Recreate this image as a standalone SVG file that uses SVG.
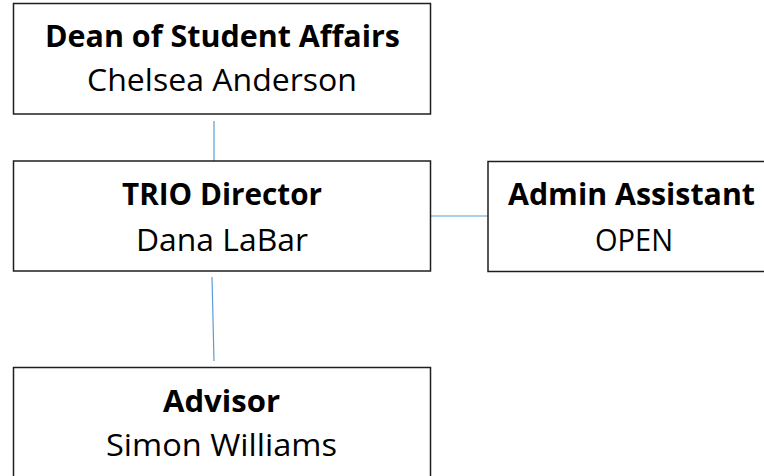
<svg xmlns="http://www.w3.org/2000/svg" width="764" height="476" viewBox="0 0 764 476">
<style>
.box{fill:#ffffff;stroke:#1e1e1e;stroke-width:1.5}
.t{font-family:"Open Sans","Noto Sans","Liberation Sans",sans-serif;font-size:31px;font-weight:700;fill:#000;text-anchor:middle}
.n{font-family:"Open Sans","Noto Sans","Liberation Sans",sans-serif;font-size:31px;font-weight:400;fill:#000;text-anchor:middle}
.c{stroke:#5b9bd5;stroke-width:1.2;fill:none}
</style>
<rect x="0" y="0" width="764" height="476" fill="#ffffff"/>
<g id="connectors">
<line class="c" x1="214" y1="121" x2="214" y2="162"/>
<line class="c" x1="431" y1="216" x2="488" y2="216"/>
<line class="c" x1="212" y1="277" x2="214" y2="361"/>
</g>
<g id="dean">
<rect class="box" x="13.5" y="3.5" width="417" height="110.5"/>
<text class="t" x="222.5" y="46.5" textLength="355" lengthAdjust="spacingAndGlyphs">Dean of Student Affairs</text>
<text class="n" x="222" y="91" textLength="270" lengthAdjust="spacingAndGlyphs">Chelsea Anderson</text>
</g>
<g id="trio">
<rect class="box" x="13.5" y="161" width="417" height="110"/>
<text class="t" x="222" y="205" textLength="200" lengthAdjust="spacingAndGlyphs">TRIO Director</text>
<text class="n" x="222" y="250.5" textLength="172" lengthAdjust="spacingAndGlyphs">Dana LaBar</text>
</g>
<g id="admin">
<rect class="box" x="488" y="161.5" width="290" height="110"/>
<text class="t" x="631.5" y="205" textLength="247" lengthAdjust="spacingAndGlyphs">Admin Assistant</text>
<text class="n" x="634" y="251" textLength="78" lengthAdjust="spacingAndGlyphs">OPEN</text>
</g>
<g id="advisor">
<rect class="box" x="13.5" y="367.5" width="417" height="112"/>
<text class="t" x="221.5" y="411.5" textLength="117" lengthAdjust="spacingAndGlyphs">Advisor</text>
<text class="n" x="221.5" y="456" textLength="231" lengthAdjust="spacingAndGlyphs">Simon Williams</text>
</g>
</svg>
